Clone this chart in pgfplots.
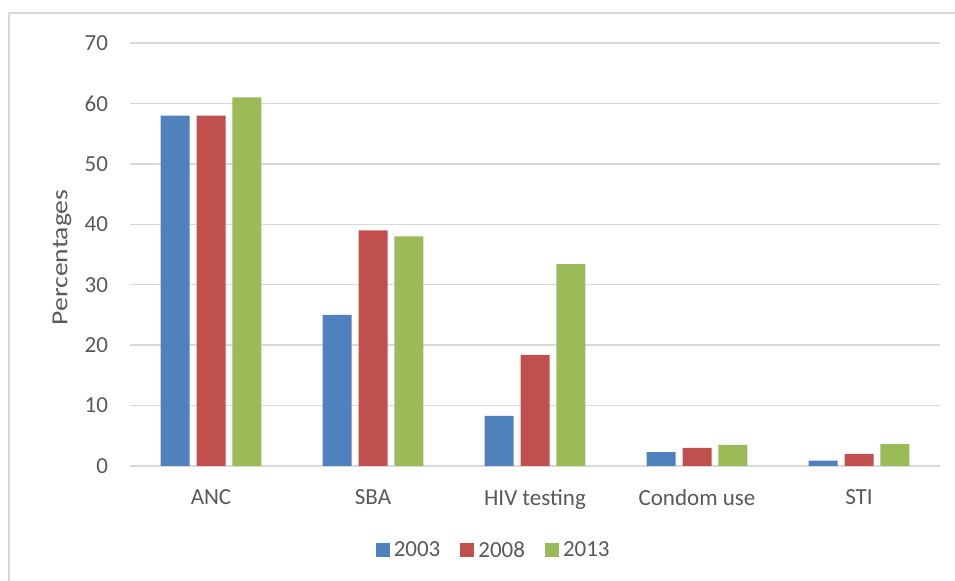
\documentclass[border=0pt]{standalone}
\usepackage{pgfplots}
\pgfplotsset{compat=1.18}
\usepackage{fontspec}
\setmainfont{Carlito}
\newfontfamily\widefont[FakeStretch=1.2]{Carlito}

\definecolor{cBlue}{HTML}{4F81BD}
\definecolor{cRed}{HTML}{C0504D}
\definecolor{cGreen}{HTML}{9BBB59}
\definecolor{gridgray}{HTML}{D9D9D9}
\definecolor{txtgray}{HTML}{595959}

\newcommand{\chartfont}{\fontsize{23bp}{27bp}\selectfont}

\begin{document}
\begin{tikzpicture}
\useasboundingbox (0,0) rectangle (955bp,581bp);
% outer chart frame
\draw[gridgray, line width=1.2bp] (9bp,0bp) -- (9bp,568bp) -- (955bp,568bp);
\begin{axis}[
  at={(130bp,115bp)}, anchor=south west,
  scale only axis,
  width=810bp, height=423bp,
  xmin=-0.5, xmax=4.5,
  ymin=0, ymax=70,
  ytick={0,10,...,70},
  xtick=data,
  xticklabels={ANC,SBA,HIV testing,Condom use,STI},
  axis line style={draw=none},
  tick style={draw=none},
  ymajorgrids,
  grid style={gridgray, line width=1.3bp},
  tick label style={txtgray, font=\chartfont},
  /pgf/number format/assume math mode=true,
  yticklabel style={xshift=-18.5bp},
  xticklabel style={yshift=-16bp},
  ylabel={Percentages},
  ylabel style={at={(axis description cs:-0.084,0.493)}, anchor=center,
    txtgray, font=\widefont\chartfont},
  ybar, bar width=0.179,
  legend columns=3,
  legend style={draw=none, at={(0.449,-0.199)}, anchor=center,
    text=txtgray, font=\chartfont, nodes={inner sep=2bp},
    /tikz/every odd column/.append style={column sep=2bp},
    /tikz/every even column/.append style={column sep=18bp}},
  legend image code/.code={\fill[#1] (0bp,-7bp) rectangle (14bp,7bp);},
]
\addplot[fill=cBlue, draw=none, bar shift=-0.222] coordinates {(0,58) (1,25) (2,8.3) (3,2.3) (4,0.9)};
\addplot[fill=cRed, draw=none, bar shift=0] coordinates {(0,58) (1,39) (2,18.4) (3,3.0) (4,2.0)};
\addplot[fill=cGreen, draw=none, bar shift=0.222] coordinates {(0,61) (1,38) (2,33.4) (3,3.5) (4,3.6)};
\legend{2003,2008,2013}
\end{axis}
\end{tikzpicture}
\end{document}
